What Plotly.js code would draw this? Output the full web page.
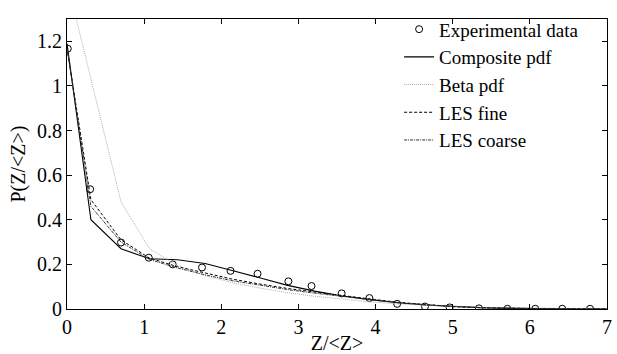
<!DOCTYPE html>
<html>
<head>
<meta charset="utf-8">
<script src="https://cdn.plot.ly/plotly-3.0.1.min.js"></script>
<style>html,body{margin:0;padding:0;background:#fff;}#chart{width:617px;height:354px;}</style>
</head>
<body>
<div id="chart"></div>
<script>
// Experimental data
const expX = [0.01, 0.30, 0.70, 1.06, 1.37, 1.75, 2.12, 2.47, 2.87, 3.17, 3.56, 3.92, 4.28, 4.64, 4.96, 5.34, 5.71, 6.07, 6.42, 6.78];
const expY = [1.167, 0.537, 0.298, 0.230, 0.200, 0.186, 0.171, 0.158, 0.124, 0.103, 0.070, 0.049, 0.023, 0.011, 0.007, 0.003, 0.001, 0.001, 0.001, 0.001];

// Model grid
const gridX = [0, 0.31, 0.70, 1.07, 1.43, 1.79, 2.14, 2.50, 2.86, 3.21, 3.57, 3.93, 4.29, 4.64, 5.00, 5.36, 5.71, 6.07, 6.43, 6.79, 7.0];
const compositeY = [1.19, 0.40, 0.27, 0.225, 0.221, 0.204, 0.173, 0.138, 0.106, 0.080, 0.058, 0.042, 0.028, 0.018, 0.011, 0.006, 0.003, 0.002, 0.001, 0.0005, 0.0003];
const lesFineY = [1.17, 0.49, 0.31, 0.228, 0.190, 0.160, 0.134, 0.112, 0.092, 0.076, 0.059, 0.045, 0.030, 0.019, 0.011, 0.006, 0.003, 0.002, 0.001, 0.0005, 0.0003];
const lesCoarseY = [1.17, 0.46, 0.30, 0.222, 0.184, 0.153, 0.127, 0.106, 0.087, 0.071, 0.055, 0.042, 0.028, 0.018, 0.011, 0.006, 0.003, 0.002, 0.001, 0.0005, 0.0003];

const betaX = [0, 0.70, 1.07, 1.43, 1.79, 2.14, 2.50, 2.86, 3.21, 3.57, 3.93, 4.29, 4.64, 5.00, 5.36, 5.71, 6.07, 6.43, 6.79, 7.0];
const betaY = [1.47, 0.48, 0.27, 0.195, 0.150, 0.118, 0.094, 0.073, 0.057, 0.043, 0.032, 0.023, 0.016, 0.011, 0.007, 0.005, 0.003, 0.002, 0.001, 0.0008];

const xTicks = [0, 1, 2, 3, 4, 5, 6, 7];
const yTicks = [0, 0.2, 0.4, 0.6, 0.8, 1, 1.2];

const tickFont = {family: 'Liberation Serif', size: 20, color: '#000'};
const legFont = {family: 'Liberation Serif', size: 19, color: '#000'};

const traces = [
  {x: expX, y: expY, name: 'Experimental data', mode: 'markers', type: 'scatter',
   marker: {symbol: 'circle-open', size: 7, color: '#000', line: {width: 1, color: '#000'}}},
  {x: gridX, y: compositeY, name: 'Composite pdf', mode: 'lines', type: 'scatter',
   line: {color: '#000', width: 1.1, dash: 'solid'}},
  {x: betaX, y: betaY, name: 'Beta pdf', mode: 'lines', type: 'scatter',
   line: {color: '#b0b0b0', width: 1, dash: '1px,1px'}},
  {x: gridX, y: lesFineY, name: 'LES fine', mode: 'lines', type: 'scatter',
   line: {color: '#000', width: 1, dash: '3px,2px'}},
  {x: gridX, y: lesCoarseY, name: 'LES coarse', mode: 'lines', type: 'scatter',
   line: {color: '#333', width: 1, dash: '3px,1px,1px,1px'}}
];

const axisCommon = {
  showline: true, linecolor: '#000', linewidth: 1, mirror: 'ticks',
  ticks: 'inside', ticklen: 5, tickcolor: '#000', tickwidth: 1,
  showgrid: false, zeroline: false, tickfont: tickFont
};

const layout = {
  width: 617, height: 354,
  margin: {l: 67, r: 10, t: 10, b: 45},
  paper_bgcolor: '#fff', plot_bgcolor: '#fff',
  font: tickFont,
  showlegend: true,
  legend: {x: 0.615, xanchor: 'left', y: 1.03, yanchor: 'top', bgcolor: 'rgba(0,0,0,0)',
           font: legFont, tracegroupgap: 0},
  xaxis: Object.assign({}, axisCommon, {range: [0, 7], tickvals: xTicks,
    title: {text: 'Z/&lt;Z&gt;', font: tickFont, standoff: 0}}),
  yaxis: Object.assign({}, axisCommon, {range: [0, 1.3], tickvals: yTicks,
    title: {text: 'P(Z/&lt;Z&gt;)', font: tickFont, standoff: 6}})
};

Plotly.newPlot('chart', traces, layout, {displayModeBar: false, staticPlot: true});
</script>
</body>
</html>
